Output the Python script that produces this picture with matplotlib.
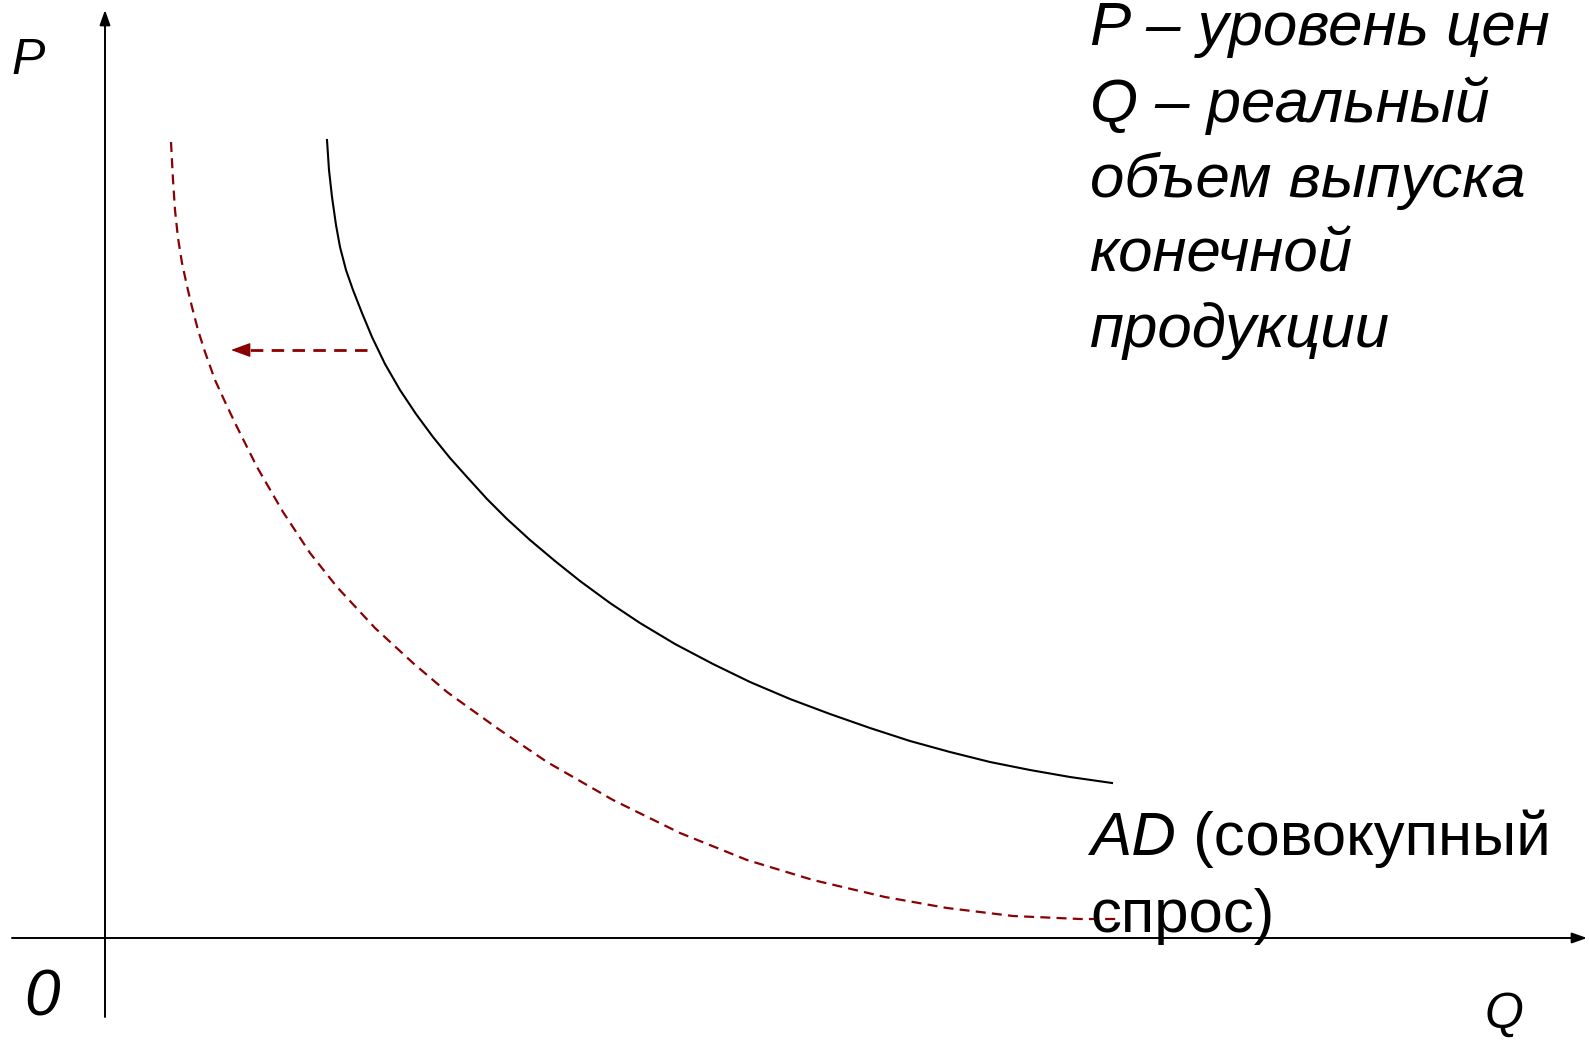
import matplotlib
matplotlib.use("Agg")
import matplotlib.pyplot as plt

plt.rcParams['font.family'] = ['Liberation Sans', 'DejaVu Sans']

# AD curve (solid) -------------------------------
ad_q = [222, 224, 227, 231, 235, 241, 248, 257, 267, 280, 295, 311,
        328, 345, 362, 382, 402, 425, 450, 475, 505, 535, 570, 608,
        645, 685, 725, 765, 805, 845, 885, 925, 965, 1007]
ad_p = [798, 768, 741, 713, 691, 668, 648, 625, 601, 574, 548, 524,
        501, 480, 461, 439, 419, 398, 377, 357, 335, 315, 294, 274,
        256, 239, 224, 210, 197, 186, 176, 168, 161, 155]

# shifted AD curve (dashed) -----------------------
ad2_q = [66, 68, 70, 73, 77, 82, 87, 93, 100, 110, 121, 132, 152, 178,
         205, 232, 270, 308, 342, 392, 442, 508, 575, 642, 708, 780,
         842, 908, 975, 1012]
ad2_p = [796, 758, 728, 700, 675, 652, 631, 608, 586, 558, 534, 511, 471,
         426, 385, 351, 310, 275, 246, 210, 176, 138, 105, 78, 58, 41,
         30, 22, 19, 19]

# shift arrow: from -> to, at price level
shift_from, shift_to, shift_p = 262, 126, 588

legend_lines = ['P – уровень цен', 'Q – реальный', 'объем выпуска',
                'конечной', 'продукции']
ad_label = ['AD', ' (совокупный', 'спрос)']

dark_red = '#8B0000'

fig = plt.figure(figsize=(15.89, 10.40), dpi=100)
ax = fig.add_axes([0, 0, 1, 1])
ax.set_xlim(-105, 1484)
ax.set_ylim(-102, 938)
ax.axis('off')

# axes with arrows
head = '-|>,head_length=0.45,head_width=0.16'
ax.annotate('', xy=(0, 928), xytext=(0, -79),
            arrowprops=dict(arrowstyle=head, color='black', lw=1.4,
                            mutation_scale=20, shrinkA=0, shrinkB=0))
ax.annotate('', xy=(1482, 0), xytext=(-93, 0),
            arrowprops=dict(arrowstyle=head, color='black', lw=1.4,
                            mutation_scale=20, shrinkA=0, shrinkB=0))

# curves
ax.plot(ad_q, ad_p, color='black', lw=1.5, solid_joinstyle='round')
ax.plot(ad2_q, ad2_p, color=dark_red, lw=1.6, linestyle=(0, (4.5, 2.8)))

# shift arrow
ax.plot([shift_from, shift_to + 10], [shift_p, shift_p], color=dark_red,
        lw=2.0, linestyle=(0, (4.5, 3.0)), dash_capstyle='butt')
ax.annotate('', xy=(shift_to, shift_p), xytext=(shift_to + 12, shift_p),
            arrowprops=dict(arrowstyle='-|>,head_length=0.6,head_width=0.22',
                            color=dark_red, lw=1.0, mutation_scale=20,
                            shrinkA=0, shrinkB=0))

# axis labels
ax.text(-94, 864, 'P', fontsize=36, style='italic', va='baseline', ha='left')
ax.text(1380, -90, 'Q', fontsize=36, style='italic', va='baseline', ha='left')
ax.text(-81, -78, '0', fontsize=46, style='italic', va='baseline', ha='left')

# description, top right
baselines = [893, 816, 741, 666, 591]
for line, y in zip(legend_lines, baselines):
    ax.text(985, y, line, fontsize=44.5, style='italic', va='baseline', ha='left')

# AD label
t_ad = ax.text(985, 83, ad_label[0], fontsize=44.5, style='italic',
               va='baseline', ha='left')
ax.annotate(ad_label[1], xy=(1, 0), xycoords=t_ad, fontsize=44.5,
            va='bottom', ha='left')
ax.text(985, 6, ad_label[2], fontsize=44.5, va='baseline', ha='left')

fig.savefig('out.png', dpi=100)
